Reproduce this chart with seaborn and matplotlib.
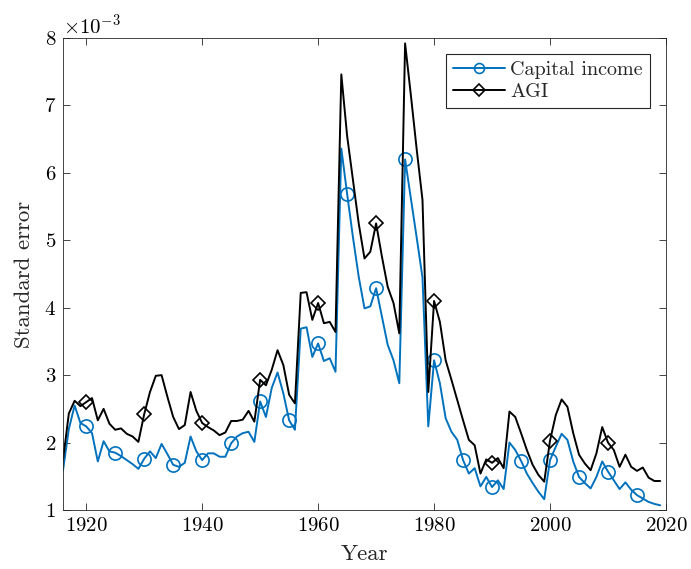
import numpy as np
import pandas as pd
import matplotlib
matplotlib.use("Agg")
import matplotlib.pyplot as plt
import matplotlib.ticker as mticker
import seaborn as sns

# ---- data (values in units of 1e-3) ----
years = list(range(1916, 2020))

capital_income = [
    1.59, 2.20, 2.55, 2.29, 2.24, 2.14, 1.72, 2.02, 1.87, 1.85,   # 1916-1925
    1.80, 1.74, 1.68, 1.61, 1.76, 1.87, 1.77, 1.98, 1.83, 1.67,   # 1926-1935
    1.64, 1.70, 2.09, 1.87, 1.74, 1.84, 1.84, 1.79, 1.79, 1.99,   # 1936-1945
    2.09, 2.14, 2.16, 2.01, 2.61, 2.38, 2.81, 3.04, 2.73, 2.33,   # 1946-1955
    2.19, 3.69, 3.71, 3.27, 3.47, 3.21, 3.25, 3.05, 6.36, 5.69,   # 1956-1965
    5.05, 4.46, 3.99, 4.02, 4.29, 3.87, 3.45, 3.22, 2.88, 6.20,   # 1966-1975
    5.62, 5.04, 4.45, 2.24, 3.22, 2.88, 2.36, 2.16, 2.04, 1.74,   # 1976-1985
    1.54, 1.62, 1.35, 1.49, 1.34, 1.44, 1.31, 2.00, 1.89, 1.73,   # 1986-1995
    1.54, 1.40, 1.27, 1.16, 1.74, 1.94, 2.13, 2.04, 1.72, 1.49,   # 1996-2005
    1.40, 1.32, 1.49, 1.72, 1.57, 1.44, 1.31, 1.41, 1.30, 1.22,   # 2006-2015
    1.17, 1.12, 1.09, 1.07,                                       # 2016-2019
]

agi = [
    1.74, 2.43, 2.62, 2.54, 2.60, 2.66, 2.33, 2.50, 2.28, 2.19,   # 1916-1925
    2.21, 2.13, 2.09, 2.01, 2.42, 2.75, 2.99, 3.00, 2.68, 2.38,   # 1926-1935
    2.20, 2.26, 2.75, 2.47, 2.29, 2.23, 2.18, 2.11, 2.15, 2.32,   # 1936-1945
    2.32, 2.34, 2.47, 2.31, 2.93, 2.85, 3.08, 3.37, 3.15, 2.71,   # 1946-1955
    2.58, 4.22, 4.23, 3.82, 4.07, 3.77, 3.79, 3.64, 7.46, 6.55,   # 1956-1965
    5.90, 5.25, 4.73, 4.83, 5.25, 4.76, 4.31, 4.07, 3.62, 7.92,   # 1966-1975
    7.15, 6.35, 5.60, 2.75, 4.10, 3.79, 3.22, 2.93, 2.63, 2.33,   # 1976-1985
    2.04, 1.96, 1.54, 1.75, 1.70, 1.77, 1.62, 2.46, 2.38, 2.14,   # 1986-1995
    1.89, 1.67, 1.52, 1.42, 2.03, 2.41, 2.64, 2.53, 2.14, 1.82,   # 1996-2005
    1.69, 1.59, 1.84, 2.23, 2.00, 1.89, 1.64, 1.82, 1.64, 1.58,   # 2006-2015
    1.63, 1.48, 1.43, 1.43,                                       # 2016-2019
]

series_names = ["Capital income", "AGI"]
x_ticks = [1920, 1940, 1960, 1980, 2000, 2020]
y_ticks = [1, 2, 3, 4, 5, 6, 7, 8]

df = pd.DataFrame({
    "Year": years,
    "cap": np.array(capital_income) * 1e-3,
    "agi": np.array(agi) * 1e-3,
})

# ---- style ----
sns.set_style("ticks")
plt.rcParams["font.family"] = ["serif"]
plt.rcParams["font.serif"] = ["cmr10", "DejaVu Serif"]
plt.rcParams["mathtext.fontset"] = "cm"
plt.rcParams["axes.formatter.use_mathtext"] = True
plt.rcParams["axes.unicode_minus"] = True

fig = plt.figure(figsize=(6.91, 5.69), dpi=100)
ax = fig.add_axes([0.0912, 0.1037, 0.8726, 0.8295])

mark_cap = [i for i, y in enumerate(years) if y >= 1920 and y % 5 == 0]
mark_agi = [i for i, y in enumerate(years) if y >= 1920 and y % 10 == 0]

blue = "#0072BD"
sns.lineplot(data=df, x="Year", y="cap", ax=ax, color=blue, linewidth=1.4,
             marker="o", markevery=mark_cap, markersize=9.5,
             markerfacecolor="none", markeredgecolor=blue, markeredgewidth=1.2,
             label=series_names[0])
sns.lineplot(data=df, x="Year", y="agi", ax=ax, color="black", linewidth=1.4,
             marker="D", markevery=mark_agi, markersize=7.5,
             markerfacecolor="none", markeredgecolor="black", markeredgewidth=1.2,
             label=series_names[1])

ax.set_xlim(1916, 2020)
ax.set_ylim(1e-3, 8e-3)
ax.set_xticks(x_ticks)
ax.set_yticks([v * 1e-3 for v in y_ticks])
fmt = mticker.ScalarFormatter(useMathText=True)
fmt.set_powerlimits((-2, 2))
ax.yaxis.set_major_formatter(fmt)

ax.set_xlabel("Year", fontsize=16.5, labelpad=7)
ax.set_ylabel("Standard error", fontsize=16.5, labelpad=7)
ax.tick_params(direction="in", top=True, right=True, labelsize=15,
               length=5, width=0.6, colors="#262626", pad=5)
ax.tick_params(axis="both", labelcolor="black")
ax.yaxis.get_offset_text().set_fontsize(15)
for s in ax.spines.values():
    s.set_visible(True)
    s.set_linewidth(0.6)
    s.set_color("#262626")

leg = ax.legend(loc="upper right", fontsize=14.5, frameon=True, fancybox=False,
                edgecolor="#262626", framealpha=1, handlelength=2.6,
                borderpad=0.35, labelspacing=0.2, handletextpad=0.25,
                borderaxespad=0.8, markerscale=0.75)
leg.get_frame().set_linewidth(0.8)

fig.savefig("out.png", dpi=100)
